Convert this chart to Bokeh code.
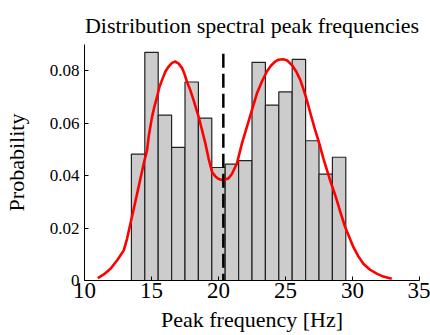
from bokeh.plotting import figure
from bokeh.models import Range1d, FixedTicker, CustomJSTickFormatter
from bokeh.embed import file_html
from bokeh.resources import INLINE

# ---- data ----
bin_left = [13.5, 14.5, 15.5, 16.5, 17.5, 18.5, 19.5, 20.5,
            21.5, 22.5, 23.5, 24.5, 25.5, 26.5, 27.5, 28.5]
bin_right = [14.5, 15.5, 16.5, 17.5, 18.5, 19.5, 20.5, 21.5,
             22.5, 23.5, 24.5, 25.5, 26.5, 27.5, 28.5, 29.5]
bin_prob = [0.0482, 0.0870, 0.0631, 0.0508, 0.0757, 0.0619, 0.0431, 0.0444,
            0.0457, 0.0832, 0.0669, 0.0719, 0.0843, 0.0533, 0.0406, 0.0470]

curve_hz = [10.99, 11.44, 11.94, 12.44, 12.93, 13.18, 13.48, 13.93, 14.42, 14.67,
            14.79, 15.04, 15.22, 15.42, 15.59, 15.79, 16.04, 16.28, 16.53, 16.78,
            17.03, 17.28, 17.45, 17.65, 17.90, 18.14, 18.32, 18.52, 18.77, 19.02,
            19.26, 19.52, 19.75, 20.01, 20.36, 20.75, 21.00, 21.38, 21.75, 22.12,
            22.50, 22.87, 23.24, 23.61, 23.91, 24.23, 24.48, 24.81, 25.10, 25.48,
            25.80, 26.10, 26.34, 26.59, 26.89, 27.21, 27.53, 27.83, 28.33, 28.58,
            28.83, 29.13, 29.45, 30.07, 30.44, 30.81, 31.31, 31.81, 32.30, 32.93]
curve_prob = [0.0009, 0.0023, 0.0045, 0.0077, 0.0115, 0.0160, 0.0229, 0.0332, 0.0446, 0.0497,
              0.0549, 0.0624, 0.0664, 0.0701, 0.0738, 0.0765, 0.0797, 0.0816, 0.0830, 0.0835,
              0.0827, 0.0810, 0.0789, 0.0758, 0.0725, 0.0688, 0.0657, 0.0624, 0.0574, 0.0523,
              0.0465, 0.0414, 0.0398, 0.0387, 0.0382, 0.0390, 0.0406, 0.0447, 0.0523, 0.0586,
              0.0651, 0.0714, 0.0759, 0.0797, 0.0819, 0.0835, 0.0842, 0.0844, 0.0840, 0.0822,
              0.0797, 0.0765, 0.0730, 0.0688, 0.0632, 0.0574, 0.0521, 0.0465, 0.0382, 0.0345,
              0.0306, 0.0255, 0.0204, 0.0127, 0.0092, 0.0064, 0.0041, 0.0026, 0.0015, 0.0007]

threshold_hz = 20.36
threshold_top = 0.0865

x_ticks = [10, 15, 20, 25, 30, 35]
y_ticks = [0, 0.02, 0.04, 0.06, 0.08]

SERIF = "Liberation Serif"

p = figure(width=430, height=335, output_backend="svg", toolbar_location=None,
           x_range=Range1d(10, 35), y_range=Range1d(0, 0.09),
           min_border_left=84, min_border_right=11, min_border_top=44, min_border_bottom=55)

p.title.text = "Distribution spectral peak frequencies"
p.title.text_font = SERIF
p.title.text_font_size = "22px"
p.title.text_font_style = "normal"
p.title.align = "center"
p.title.vertical_align = "bottom"
p.title.text_color = "black"
p.title.standoff = 14

p.outline_line_color = None
p.xgrid.visible = False
p.ygrid.visible = False
p.background_fill_color = "white"
p.border_fill_color = "white"

p.quad(left=bin_left, right=bin_right, bottom=0, top=bin_prob,
       fill_color="#cccccc", line_color="#222222", line_width=1.2)

p.line(curve_hz, curve_prob, line_color="#ff0000", line_width=2.6, line_join="round")

p.segment(x0=[threshold_hz], y0=[threshold_top], x1=[threshold_hz], y1=[0],
          line_color="black", line_width=2.5, line_dash="14 6")

p.axis.axis_line_color = "black"
p.axis.axis_line_width = 1
p.axis.major_tick_in = 4
p.axis.major_tick_out = 0
p.axis.minor_tick_line_color = None
p.axis.major_tick_line_color = "black"
p.axis.major_label_text_font = SERIF
p.axis.major_label_text_font_style = "normal"
p.axis.major_label_text_color = "black"
p.axis.axis_label_text_font = SERIF
p.axis.axis_label_text_font_style = "normal"
p.axis.axis_label_text_font_size = "22px"
p.axis.axis_label_text_color = "black"

p.xaxis.ticker = FixedTicker(ticks=x_ticks)
p.yaxis.ticker = FixedTicker(ticks=y_ticks)
p.xaxis.major_label_text_font_size = "23px"
p.yaxis.major_label_text_font_size = "17px"
p.xaxis.major_label_standoff = 2
p.yaxis.major_label_standoff = 5
p.yaxis.formatter = CustomJSTickFormatter(code="return tick == 0 ? '0' : tick.toFixed(2);")
p.xaxis.axis_label = "Peak frequency [Hz]"
p.yaxis.axis_label = "Probability"
p.xaxis.axis_label_standoff = 6
p.yaxis.axis_label_standoff = 18

open("out.html", "w").write(file_html(p, INLINE))
